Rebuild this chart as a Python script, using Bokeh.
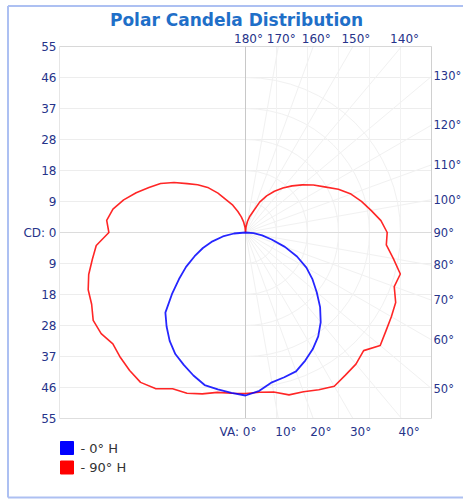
import math
from bokeh.plotting import figure
from bokeh.models import Range1d
from bokeh.embed import file_html
from bokeh.resources import INLINE
from bokeh.core.properties import value

# ---------------- data ----------------
title_text = "Polar Candela Distribution"
angles = list(range(0, 185, 5))  # vertical angle, 0 = nadir, 180 = zenith

blue_right = [48.2, 47.0, 45.0, 44.3, 43.7, 41.8, 39.8, 37.5, 34.6, 31.2, 27.5, 24.2, 20.8,
              16.8, 12.4, 8.0, 5.0, 2.4, 0.0] + [0.0] * 18
blue_left = [48.2, 47.6, 47.1, 46.7, 45.0, 43.2, 41.5, 39.1, 36.3, 33.5, 28.4, 24.0, 20.3,
             16.6, 13.4, 10.1, 6.8, 3.4, 0.0] + [0.0] * 18
red_right = [47.6, 47.4, 47.9, 49.7, 50.1, 51.3, 52.5, 51.5, 50.8, 49.4, 52.0, 50.7, 49.8,
             49.0, 46.8, 47.4, 44.4, 41.8, 41.9, 40.2, 37.7, 35.5, 33.2, 30.3, 27.0, 24.5,
             21.9, 19.5, 17.2, 14.9, 12.5, 9.9, 6.6, 5.0, 3.3, 1.6, 0.0]
red_left = [47.6, 47.7, 48.0, 49.4, 50.6, 51.0, 53.3, 54.1, 53.3, 52.3, 51.2, 52.1, 52.0,
            50.2, 49.5, 48.0, 46.0, 44.3, 40.4, 41.2, 39.8, 37.3, 34.4, 31.5, 29.0, 25.8,
            22.5, 20.0, 17.4, 14.2, 11.0, 8.9, 6.6, 4.8, 3.1, 1.5, 0.0]

r_max = 55
r_tick_labels = ["55", "46", "37", "28", "18", "9", "CD: 0", "9", "18", "28", "37", "46", "55"]
bottom_angles = [0, 10, 20, 30, 40]
right_angles = [50, 60, 70, 80, 90, 100, 110, 120, 130]
top_angles = [140, 150, 160, 170, 180]
series_names = ["- 0\u00b0 H", "- 90\u00b0 H"]
series_colors = ["#0000ff", "#ff0000"]

# ---------------- layout ----------------
W, H = 463, 499
ORG = 0                    # page offset of the figure
CX, CY = 245, 232          # screen position of the pole
s = 186 / r_max            # pixels per candela unit

def px(x):
    return (x - CX) / s

def py(y):
    return (CY - y) / s

p = figure(width=W, height=H, output_backend="svg", toolbar_location=None,
           x_range=Range1d(px(ORG), px(ORG + W)), y_range=Range1d(py(ORG + H), py(ORG)),
           min_border=0, background_fill_color="white", border_fill_color="white")
p.axis.visible = False
p.xgrid.visible = False
p.ygrid.visible = False
p.outline_line_color = None

font = value("DejaVu Sans")
lab_col = "#26338a"
faint = "#ededed"

# tick radii
n = 6
ticks = [r_max * k / n for k in range(n, -n - 1, -1)]

# faint grid: horizontal lines
p.segment(x0=[-r_max] * len(ticks), y0=ticks, x1=[r_max] * len(ticks), y1=ticks,
          line_color=faint, line_width=1)
# vertical lines on right half
vt = [r_max * k / n for k in range(1, n)]
p.segment(x0=vt, y0=[-r_max] * len(vt), x1=vt, y1=[r_max] * len(vt),
          line_color="#f2f2f2", line_width=1)
# arcs on right half
p.arc(x=[0] * len(vt), y=[0] * len(vt), radius=vt, start_angle=-math.pi / 2,
      end_angle=math.pi / 2, line_color="#f1f1f1", line_width=1)
# radial lines on right half
rx0, ry0, rx1, ry1 = [], [], [], []
for a in range(10, 180, 10):
    t = math.radians(a)
    dx, dy = math.sin(t), -math.cos(t)
    L = r_max / max(abs(dx), abs(dy))
    rx0.append(0); ry0.append(0); rx1.append(L * dx); ry1.append(L * dy)
p.segment(x0=rx0, y0=ry0, x1=rx1, y1=ry1, line_color="#f1f1f1", line_width=1)

# center lines and box
p.segment(x0=[0], y0=[-r_max], x1=[0], y1=[r_max], line_color="#c8c8c8", line_width=1)
p.segment(x0=[-r_max], y0=[0], x1=[r_max], y1=[0], line_color="#dcdcdc", line_width=1)
p.segment(x0=[-r_max, r_max, -r_max, -r_max], y0=[r_max, -r_max, -r_max, -r_max],
          x1=[r_max, r_max, r_max, -r_max], y1=[r_max, r_max, -r_max, r_max],
          line_color=["#d8d8d8", "#d0d0d0", "#dedede", "#e6e6e6"], line_width=1)

# curves
def curve(left, right):
    xs, ys = [], []
    for a, r in zip(reversed(angles), reversed(left)):
        t = math.radians(a)
        xs.append(-r * math.sin(t)); ys.append(-r * math.cos(t))
    for a, r in zip(angles, right):
        t = math.radians(a)
        xs.append(r * math.sin(t)); ys.append(-r * math.cos(t))
    return xs, ys

rx, ry = curve(red_left, red_right)
p.line(rx, ry, line_color=series_colors[1], line_width=1.6, line_alpha=0.85,
       line_join="round")
bx, by = curve(blue_left, blue_right)
p.line(bx, by, line_color=series_colors[0], line_width=1.8, line_alpha=0.85,
       line_join="round")

# radius labels (left)
p.text(x=[-r_max] * len(ticks), y=ticks, text=r_tick_labels, x_offset=-3,
       text_font=font, text_font_size="12px", text_color=lab_col,
       text_align="right", text_baseline="middle")

# bottom angle labels
bx_pos = [r_max * math.tan(math.radians(a)) for a in bottom_angles]
p.text(x=bx_pos[:1], y=[-r_max], text=["VA: %d\u00b0" % bottom_angles[0]], x_offset=11,
       y_offset=13, text_font=font, text_font_size="12px", text_color=lab_col,
       text_align="right", text_baseline="middle")
p.text(x=bx_pos[1:], y=[-r_max] * (len(bx_pos) - 1),
       text=["%d\u00b0" % a for a in bottom_angles[1:]], x_offset=-3, y_offset=13,
       text_font=font, text_font_size="12px", text_color=lab_col,
       text_align="left", text_baseline="middle")

# right angle labels
ry_pos = [-r_max * math.cos(math.radians(a)) / math.sin(math.radians(a)) for a in right_angles]
p.text(x=[r_max] * len(ry_pos), y=ry_pos, text=["%d\u00b0" % a for a in right_angles],
       x_offset=2, text_font=font, text_font_size="11.5px", text_color=lab_col,
       text_align="left", text_baseline="middle")

# top angle labels
tx_pos = [r_max * math.tan(math.radians(180 - a)) for a in top_angles]
p.text(x=tx_pos, y=[r_max] * len(tx_pos), text=["%d\u00b0" % a for a in top_angles],
       x_offset=3, y_offset=-8, text_font=font, text_font_size="12px", text_color=lab_col,
       text_align="center", text_baseline="middle")

# title
p.text(x=[px(236)], y=[py(19)], text=[title_text], text_font=font, text_font_size="17px",
       text_font_style="bold", text_color="#1f6fc8", text_align="center",
       text_baseline="middle")

# legend
p.scatter(x=[px(66.5)] * 2, y=[py(447.5), py(467)], marker="square", size=13,
          fill_color=series_colors, line_color=series_colors)
p.text(x=[px(80)] * 2, y=[py(447.5), py(467)], text=series_names, text_font=font,
       text_font_size="13px", text_color="#333333", text_align="left",
       text_baseline="middle")

# outer frame (left, top, bottom)
p.segment(x0=[px(7.5), px(7.5), px(7.5)], y0=[py(5.5), py(5.5), py(497)],
          x1=[px(7.5), px(463), px(463)], y1=[py(497), py(5.5), py(497)],
          line_color="#adc0f2", line_width=2)

open("out.html", "w").write(file_html(p, INLINE))
